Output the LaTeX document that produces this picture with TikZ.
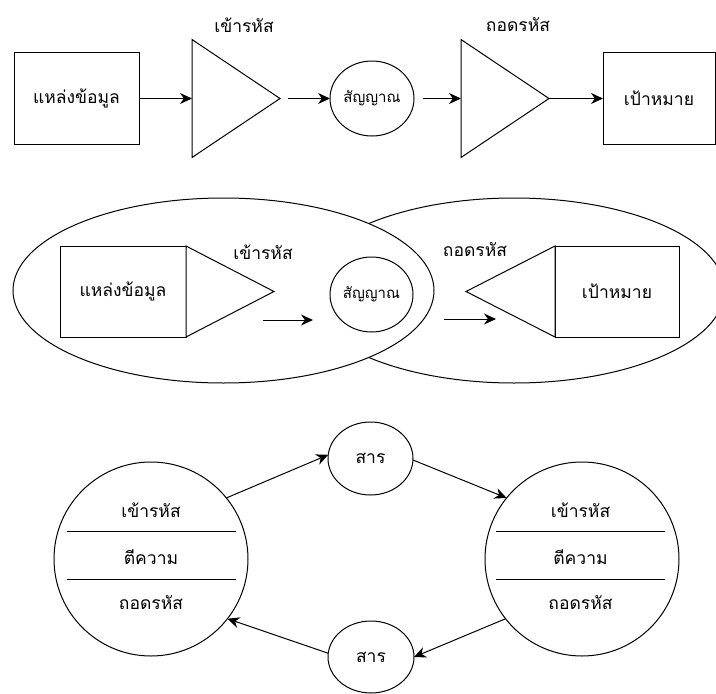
\documentclass[tikz,border=0pt]{standalone}
\usepackage{fontspec}
\newfontfamily\thai[Script=Thai]{Loma}
\usetikzlibrary{shapes.geometric,arrows.meta,calc}

\tikzset{
  line/.style={line width=1pt},
  bigfont/.style={font=\thai\fontsize{17.5}{21}\selectfont},
  smallfont/.style={font=\thai\fontsize{15}{18}\selectfont},
  lbl/.style={bigfont, inner sep=0pt},
  box/.style={draw, line, fill=white, inner sep=0pt, outer sep=0pt, bigfont},
  oval/.style={draw, line, fill=white, ellipse, inner sep=0pt, outer sep=0pt},
  ring/.style={draw, line, fill=white, circle, inner sep=0pt, outer sep=0pt},
  % minimum width = base, minimum height = length towards the apex
  tri/.style={draw, line, fill=white, isosceles triangle, isosceles triangle stretches,
              inner sep=0pt, outer sep=0pt},
  arr/.style={line, -{Stealth[length=12pt,width=11pt]}},
}

\begin{document}
\begin{tikzpicture}[x=1pt,y=-1pt]
\clip (0,0) rectangle (716,694);

% ---------- linear model ----------
\node[box, minimum width=125, minimum height=92] (src1) at (76.5,98.5) {แหล่งข้อมูล};
\node[tri, minimum width=118, minimum height=88, anchor=apex] (enc1) at (280,98.5) {};
\node[lbl] (enc1t) at (244,25) {เข้ารหัส};
\node[oval, minimum width=84, minimum height=75, smallfont] (sig1) at (372,98.5) {สัญญาณ};
\node[tri, minimum width=118, minimum height=88, anchor=apex] (dec1) at (549,98.5) {};
\node[lbl] (dec1t) at (518,25) {ถอดรหัส};
\node[box, minimum width=112, minimum height=92] (tgt1) at (659,98.5) {เป้าหมาย};

\draw[arr] (src1.east) -- (enc1.west);
\draw[arr] ([xshift=8]enc1.apex) -- (sig1.west);
\draw[arr] ([xshift=9]sig1.east) -- (dec1.west);
\draw[arr] (dec1.apex) -- (tgt1.west);

% ---------- overlapping fields of experience ----------
\node[oval, minimum width=421, minimum height=185] (fieldR) at (514,290.5) {};
\node[oval, minimum width=421, minimum height=185] (fieldL) at (223.5,290.5) {};

\node[box, minimum width=126, minimum height=91] (src2) at (123,291.5) {แหล่งข้อมูล};
\node[tri, minimum width=91, minimum height=88, anchor=apex] (enc2) at (274,291.5) {};
\node[lbl] (enc2t) at (263,252) {เข้ารหัส};
\node[oval, minimum width=83, minimum height=75, smallfont] (sig2) at (371.5,294.5) {สัญญาณ};
\node[lbl] (dec2t) at (475,250) {ถอดรหัส};
\node[box, minimum width=124, minimum height=91] (tgt2) at (617,291.5) {เป้าหมาย};
\node[tri, shape border rotate=180, minimum width=91, minimum height=89, anchor=apex] (dec2) at (466,291.5) {};

\coordinate (a1s) at (263,320);
\coordinate (a1e) at (313,320);
\coordinate (a2s) at (444,319);
\coordinate (a2e) at (496,319);
\draw[arr] (a1s) -- (a1e);
\draw[arr] (a2s) -- (a2e);

% ---------- transactional model ----------
\node[ring, minimum size=194] (partL) at (151,559) {};
\node[ring, minimum size=194] (partR) at (582,559) {};
\foreach \p/\c in {partL/151, partR/580.5} {
  \node[lbl] at (\c,510) {เข้ารหัส};
  \node[lbl] at (\c,557) {ตีความ};
  \node[lbl] at (\c,603) {ถอดรหัส};
  \draw[line] (\c-84.5,531) -- (\c+84.5,531);
  \draw[line] (\c-84.5,579) -- (\c+84.5,579);
}
\node[oval, minimum width=85, minimum height=73, bigfont] (msgT) at (370.5,458.5) {สาร};
\node[oval, minimum width=86, minimum height=72, bigfont] (msgB) at (371,657) {สาร};

\draw[arr] (partL.39) -- (msgT.175);
\draw[arr] (msgT.-2) -- (partR.141);
\draw[arr] (partR.218) -- (msgB.0);
\draw[arr] (msgB.175) -- (partL.-38);
\end{tikzpicture}
\end{document}
